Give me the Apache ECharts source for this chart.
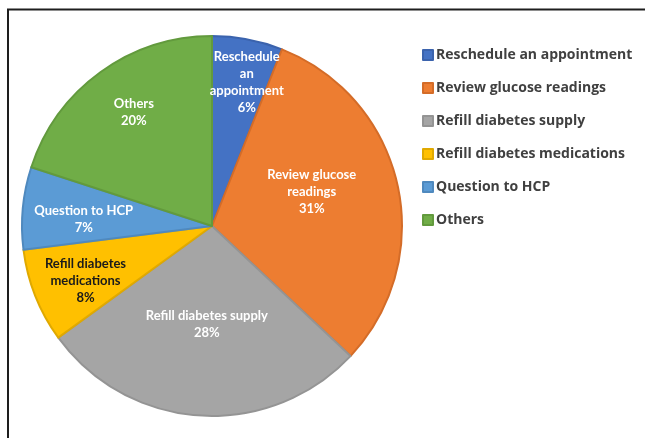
<!DOCTYPE html>
<html>
<head>
<meta charset="utf-8">
<script src="https://cdn.jsdelivr.net/npm/echarts@6/dist/echarts.min.js"></script>
<style>html,body{margin:0;padding:0;background:#fff;}#c{width:645px;height:438px;}</style>
</head>
<body>
<div id="c"></div>
<script>
const categories = ["Reschedule an appointment", "Review glucose readings", "Refill diabetes supply", "Refill diabetes medications", "Question to HCP", "Others"];
const values = [6, 31, 28, 8, 7, 20];
const labelLines = ["Reschedule\nan\nappointment", "Review glucose\nreadings", "Refill diabetes supply", "Refill diabetes\nmedications", "Question to HCP", "Others"];

const colors = ["#4472C4", "#ED7D31", "#A5A5A5", "#FFC000", "#5B9BD5", "#70AD47"];
const borderColors = ["#3B63AD", "#D46C28", "#949494", "#E0A900", "#4F89BE", "#629A3D"];
const labelColors = ["#fff", "#fff", "#fff", "#1a1a1a", "#fff", "#fff"];
// label placement: [radius fraction, angle from top (deg)]
const labelPlace = [[0.76, 13.7], [0.54, 70.7], [0.5, 183], [0.71, 246.5], [0.66, 272.7], [0.71, 325.5]];
const R = 190;

const total = values.reduce((a, b) => a + b, 0);
const mids = [];
let acc = 0;
values.forEach(v => { mids.push((acc + v / 2) / total * 360); acc += v; });

const chart = echarts.init(document.getElementById('c'), null, {renderer: 'canvas'});
chart.setOption({
  animation: false,
  backgroundColor: '#fff',
  graphic: [{
    type: 'rect', shape: {x: 8, y: 9.5, width: 700, height: 500},
    style: {fill: 'none', stroke: '#1e1e1e', lineWidth: 2}, silent: true, z: 0
  }],
  legend: {
    orient: 'vertical', left: 417, top: 41,
    icon: 'rect', itemWidth: 10, itemHeight: 10, itemGap: 15,
    textStyle: {fontFamily: 'Open Sans', fontWeight: 'bold', fontSize: 14, color: '#404040', lineHeight: 18, padding: [0, 0, 0, -2]},
    data: categories
  },
  series: [{
    type: 'pie',
    center: [212, 226], radius: R,
    startAngle: 90, clockwise: true,
    label: {
      position: 'inside', fontFamily: 'Lato', fontWeight: 'bold', fontSize: 13, lineHeight: 17,
      formatter: p => labelLines[p.dataIndex] + '\n' + values[p.dataIndex] + '%'
    },
    labelLayout: function (p) {
      const i = p.dataIndex;
      const m = mids[i] * Math.PI / 180;
      const t = labelPlace[i][1] * Math.PI / 180;
      const f = labelPlace[i][0];
      return {
        dx: f * R * Math.sin(t) - 0.5 * R * Math.sin(m),
        dy: -f * R * Math.cos(t) + 0.5 * R * Math.cos(m)
      };
    },
    labelLine: {show: false},
    emphasis: {disabled: true},
    data: categories.map((c, i) => ({
      name: c, value: values[i],
      itemStyle: {color: colors[i], borderColor: borderColors[i], borderWidth: 2},
      label: {color: labelColors[i]}
    }))
  }]
});
</script>
</body>
</html>
